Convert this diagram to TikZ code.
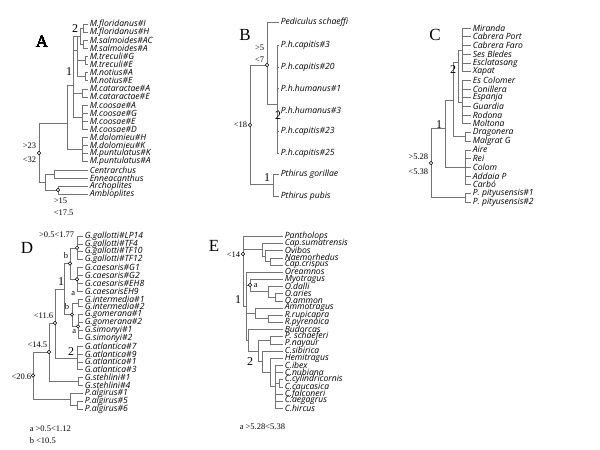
\documentclass[tikz,border=0pt]{standalone}
\usepackage{fontspec}
\setmainfont{Liberation Serif}
\newfontfamily\leaffont{Open Sans}
\newcommand\vl[3]{\draw (#1,#2)--(#1,#3);}
\newcommand\hl[3]{\draw (#1,#3)--(#2,#3);}
\newcommand\pair[4]{\draw (#1,#2)--(#1,#3) (#1,#2)--(#4,#2) (#1,#3)--(#4,#3);}
\newcommand\ticks[3]{\foreach \yy in {#3} {\draw (#1,\yy)--(#2,\yy);}}
\newcommand\nodecirc[1]{\draw[fill=white,draw=black,line width=0.5pt] (#1) circle (1.7);}
\tikzset{lf/.style={anchor=west,inner sep=0.5pt,font=\leaffont\itshape\fontsize{8.6}{9}\selectfont},
lab/.style={inner sep=0.5pt,font=\fontsize{8.5}{9}\selectfont},
big/.style={inner sep=0pt,font=\fontsize{12}{12}\selectfont},
pan/.style={inner sep=0pt,font=\fontsize{17}{17}\selectfont}}
\begin{document}
\begin{tikzpicture}[x=1pt,y=-1pt,line width=0.6pt]
\useasboundingbox[fill=white] (0,0) rectangle (600,450);
\begin{scope}[draw=black!55]
% ---------- A
\foreach \t [count=\i from 0] in {M.floridanus\#I,M.floridanus\#H,M.salmoides\#AC,M.salmoides\#A,M.treculi\#G,M.treculi\#E,M.notius\#A,M.notius\#E,M.cataractae\#A,M.cataractae\#E,M.coosae\#A,M.coosae\#G,M.coosae\#E,M.coosae\#D,M.dolomieu\#H,M.dolomieu\#K,M.puntulatus\#K,M.puntulatus\#A,Centrarchus,Enneacanthus,Archoplites,Ambloplites}
  \node[lf] (a\i) at (89,24+8.1*\i) {\t};
\vl{39}{123}{182}\hl{39}{67}{123}\vl{67}{85}{149.5}\hl{67}{73}{85}\hl{67}{82}{149.5}
\vl{73}{36}{117}\hl{73}{77}{50}\hl{73}{82}{92.8}\hl{73}{82}{117}
\vl{77}{36}{76.6}\hl{73}{80}{36}\hl{77}{85}{60.5}\hl{77}{85}{76.6}
\pair{80}{28}{44.2}{83}\pair{83}{24}{32.1}{88}\pair{83}{40.2}{48.3}{88}
\pair{85}{56.4}{64.5}{88}\pair{85}{72.6}{80.7}{88}\pair{82}{88.8}{96.9}{88}
\vl{82}{105}{129.3}\ticks{82}{88}{105,113.1,121.2,129.3}
\vl{82}{137.4}{161.7}\ticks{82}{88}{137.4,145.5,153.6,161.7}
\hl{39}{45}{182}\vl{45}{174}{190}\hl{45}{54}{174}\hl{45}{58}{190}
\pair{54}{169.8}{177.9}{88}\pair{58}{186}{194.1}{88}
% ---------- B
\foreach \t/\yy [count=\i] in {Pediculus schaeffi/22,P.h.capitis\#3/45,P.h.capitis\#20/67,P.h.humanus\#1/88,P.h.humanus\#3/110,P.h.capitis\#23/131,P.h.capitis\#25/153,Pthirus gorillae/174,Pthirus pubis/196}
  \node[lf] (b\i) at (280,\yy) {\t};
\vl{250}{65}{184}\hl{250}{267}{65}\vl{267}{22}{104}\hl{267}{279}{22}\hl{267}{277}{104}
\vl{277}{45}{153}\ticks{277}{279}{45,67,88,110,131,153}
\hl{250}{273}{184}\pair{273}{174}{196}{279}
% ---------- C
\foreach \t [count=\i from 0] in {Miranda,Cabrera Port,Cabrera Faro,Ses Bledes,Esclatasang,Xapat,Es Colomer,Conillera,Espanja,Guardia,Rodona,Moltona,Dragonera,Malgrat G,Aire,Rei,Colom,Addaia P,Carbó,P. pityusensis\#1,P. pityusensis\#2}
  \node[lf] (c\i) at (472,28+8.7*\i) {\t};
\vl{431}{128}{197.6}\hl{431}{445}{128}\vl{445}{100}{167.2}\hl{445}{453}{100}\hl{445}{465}{167.2}
\vl{465}{149.8}{184.6}\ticks{465}{471}{149.8,158.5,167.2,175.9,184.6}
\vl{453}{62}{136.7}\hl{453}{458}{62}\hl{453}{465}{136.7}\pair{465}{132.4}{141.1}{471}
\vl{458}{50}{102}\hl{458}{462}{50}\hl{458}{462}{102}
\vl{462}{28}{71.5}\ticks{462}{471}{28,36.7,45.4,54.1,62.8,71.5}
\vl{462}{80.2}{123.7}\ticks{462}{471}{80.2,88.9,97.6,106.3,115,123.7}
\hl{431}{465}{197.6}\pair{465}{193.3}{202}{471}
% ---------- D
\foreach \t [count=\i from 0] in {G.gallotti\#LP14,G.gallotti\#TF4,G.gallotti\#TF10,G.gallotti\#TF12,G.caesaris\#G1,G.caesaris\#G2,G.caesaris\#EH8,G.caesarisEH9,G.intermedia\#1,G.intermedia\#2,G.gomerana\#1,G.gomerana\#2,G.simonyi\#1,G.simonyi\#2,G.atlantica\#7,G.atlantica\#9,G.atlantica\#1,G.atlantica\#3,G.stehlini\#1,G.stehlini\#4,P.algirus\#1,P.algirus\#5,P.algirus\#6}
  \node[lf] (d\i) at (84,236+7.86*\i) {\t};
\vl{77}{236}{259.6}\ticks{77}{83}{236,243.9,251.7,259.6}
\vl{77}{267.4}{291}\ticks{77}{83}{267.4,275.3,283.2,291}
\vl{70}{247.8}{279.2}\hl{70}{77}{247.8}\hl{70}{77}{279.2}
\pair{78}{298.9}{306.7}{83}
\vl{78}{314.6}{338.2}\ticks{78}{83}{314.6,322.5,330.3,338.2}
\vl{72}{302.8}{326.4}\hl{72}{78}{302.8}\hl{72}{78}{326.4}
\vl{64}{263.5}{314.6}\hl{64}{70}{263.5}\hl{64}{72}{314.6}
\vl{77}{346}{369.6}\ticks{77}{83}{346,353.9,361.8,369.6}
\vl{55}{289}{357.8}\hl{55}{64}{289}\hl{55}{77}{357.8}
\pair{78}{377.5}{385.3}{83}
\vl{49}{323}{381.4}\hl{49}{55}{323}\hl{49}{78}{381.4}
\pair{77}{401.1}{408.9}{83}\vl{70}{393.2}{405}\hl{70}{83}{393.2}\hl{70}{77}{405}
\vl{33}{352}{399}\hl{33}{49}{352}\hl{33}{70}{399}
% ---------- E
\foreach \t [count=\i from 0] in {Pantholops,Cap.sumatrensis,Ovibos,Naemorhedus,Cap.crispus,Oreamnos,Myotragus,O.dalli,O.aries,O.ammon,Ammotragus,R.rupicapra,R.pyrenaica,Budorcas,P. schaeferi,P.nayaur,C.sibirica,Hemitragus,C.ibex,C.nubiana,C.cylindricornis,C.caucasica,C.falconeri,C.aegagrus,C.hircus}
  \node[lf] (e\i) at (284,236+7.17*\i) {\t};
\vl{243}{236}{306}\hl{243}{283}{236}\hl{243}{262}{249.4}\hl{243}{246}{306}
\vl{262}{243}{255.8}\hl{262}{283}{243}\hl{262}{265}{255.8}
\vl{265}{250}{261.5}\hl{265}{283}{250}\hl{265}{270}{261.5}\pair{270}{258}{265}{283}
\vl{246}{272}{340}\hl{246}{283}{272}\hl{246}{250}{285}\hl{246}{255}{313}\hl{246}{248}{340}
\vl{250}{279}{291.5}\hl{250}{283}{279}\hl{250}{268}{291.5}
\vl{268}{286}{297}\hl{268}{283}{286}\hl{268}{275}{297}\pair{275}{293}{301}{283}
\vl{255}{308}{318.5}\hl{255}{283}{308}\hl{255}{268}{318.5}\pair{268}{315}{322}{283}
\vl{248}{329}{351}\hl{248}{283}{329}\hl{248}{258}{351}
\vl{258}{340}{361.5}\hl{258}{270}{340}\hl{258}{262}{361.5}\pair{270}{336}{344}{283}
\vl{262}{351}{372}\hl{262}{283}{351}\hl{262}{270}{372}
\vl{270}{358}{386.5}\hl{270}{283}{358}\hl{270}{275}{386.5}
\vl{275}{365}{408}\ticks{275}{283}{365,372,394,401,408}\hl{275}{279}{383}\pair{279}{379}{387}{283}
\end{scope}
% circles
\foreach \p in {{39,153},{58,190},{250,125},{267,65},{431,163},{77,247.8},{70,263.5},{77,279.2},{72,314.6},{78,326.4},{55,323},{49,352},{33,375.5},{243,254},{250,285}}
  \nodecirc{\p}
% labels
\node[pan] (LA) at (42,42) {A};
\node[pan] (LB) at (245,35) {B};
\node[pan] (LC) at (435,35) {C};
\node[pan] (LD) at (27,248) {D};
\node[pan] (LE) at (214,246) {E};
\node[big] (nA2) at (75,29) {2};
\node[big] (nA1) at (69,72) {1};
\node[big] (nB2) at (278,116) {2};
\node[big] (nB1) at (267,178) {1};
\node[big] (nC2) at (453,70) {2};
\node[big] (nC1) at (439,125) {1};
\node[big] (nD1) at (61,282) {1};
\node[big] (nD2) at (71,352) {2};
\node[big] (nE1) at (238,300) {1};
\node[big] (nE2) at (250,362) {2};
\node[lab,anchor=east] (t1) at (37,146) {>23};
\node[lab,anchor=east] (t2) at (37,160) {<32};
\node[lab,anchor=west] (t3) at (53,201) {>15};
\node[lab,anchor=west] (t4) at (53,213) {<17.5};
\node[lab,anchor=east] (t5) at (265,48) {>5};
\node[lab,anchor=east] (t6) at (265,60) {<7};
\node[lab,anchor=east] (t7) at (248,125) {<18};
\node[lab,anchor=east] (t8) at (429,157) {>5.28};
\node[lab,anchor=east] (t9) at (429,172) {<5.38};
\node[lab,anchor=east] (t10) at (75,235) {>0.5<1.77};
\node[lab,anchor=east] (t11) at (69,256) {b};
\node[lab,anchor=east] (t12) at (76,294) {a};
\node[lab,anchor=east] (t13) at (70,307) {b};
\node[lab,anchor=east] (t14) at (77,332) {a};
\node[lab,anchor=east] (t15) at (54,316) {<11.6};
\node[lab,anchor=east] (t16) at (48,345) {<14.5};
\node[lab,anchor=east] (t17) at (32,377) {<20.6};
\node[lab,anchor=west] (t18) at (29,429) {a >0.5<1.12};
\node[lab,anchor=west] (t19) at (29,441) {b <10.5};
\node[lab,anchor=east] (t20) at (241,255) {<14};
\node[lab,anchor=west] (t21) at (253,286) {a};
\node[lab,anchor=west] (t22) at (239,427) {a >5.28<5.38};
\end{tikzpicture}
\end{document}
